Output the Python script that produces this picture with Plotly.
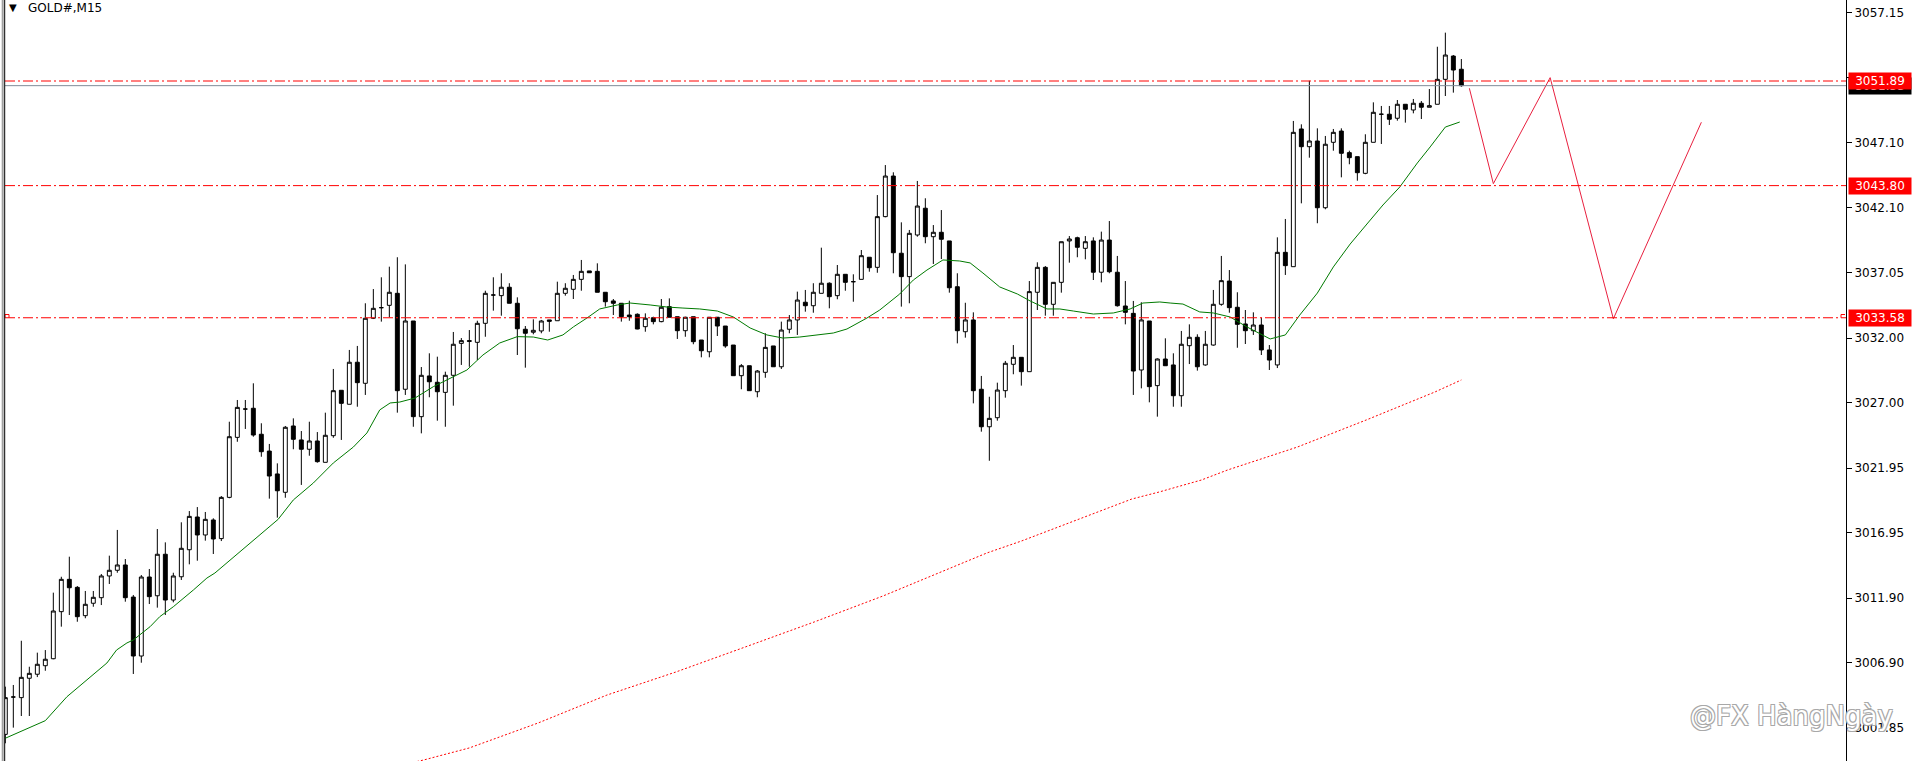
import plotly.graph_objects as go

# ---------------- data ----------------
opens = [3001.36,3004.25,3004.20,3005.70,3006.01,3006.67,3007.21,3010.85,3013.35,3012.73,
         3010.54,3011.50,3011.93,3013.61,3014.05,3014.46,3011.98,3007.42,3013.53,3012.08,
         3015.29,3011.75,3013.55,3015.64,3018.17,3016.78,3017.94,3016.50,3019.69,3024.33,
         3026.52,3026.58,3024.57,3023.27,3021.50,3020.08,3025.21,3024.13,3023.41,3024.05,
         3022.40,3024.46,3027.97,3026.89,3030.14,3028.51,3033.54,3034.36,3034.54,3035.47,
         3028.05,3033.33,3025.93,3029.08,3028.59,3027.81,3029.13,3031.60,3031.81,3031.68,
         3033.15,3035.34,3035.29,3035.94,3034.70,3032.69,3032.46,3032.56,3033.41,3033.35,
         3035.47,3035.78,3036.55,3037.20,3037.17,3035.55,3034.88,3034.70,3033.79,3033.85,
         3032.89,3033.58,3033.28,3034.44,3033.66,3032.58,3033.66,3031.86,3030.95,3033.62,
         3032.94,3031.47,3029.10,3029.87,3027.86,3029.36,3031.40,3029.79,3032.69,3033.41,
         3034.78,3034.51,3035.47,3036.25,3035.29,3036.94,3036.37,3036.55,3038.26,3037.48,
         3041.40,3044.54,3038.57,3036.76,3039.98,3042.05,3039.85,3040.19,3039.52,3035.98,
         3032.50,3033.41,3028.05,3025.15,3025.85,3027.94,3029.98,3030.52,3029.41,3035.55,
         3037.48,3034.62,3036.32,3039.52,3039.77,3038.95,3039.52,3037.10,3039.59,3037.10,
         3034.49,3033.92,3029.54,3033.33,3028.33,3030.39,3029.93,3027.55,3031.42,3032.07,
         3029.93,3031.47,3034.62,3036.42,3034.39,3033.10,3032.58,3033.02,3031.09,3029.93,
         3038.64,3037.53,3048.18,3046.81,3047.25,3042.09,3047.15,3048.02,3046.35,3046.04,
         3044.75,3047.15,3049.32,3049.32,3049.01,3050.09,3049.65,3050.17,3049.86,3050.09,
         3052.02,3053.82,3052.80]
highs = [3005.05,3005.18,3008.60,3006.59,3007.68,3007.88,3012.32,3013.55,3015.10,3012.83,
         3012.45,3012.45,3013.76,3015.18,3017.17,3014.92,3012.14,3013.68,3014.15,3017.24,
         3016.21,3013.86,3017.76,3018.63,3018.94,3018.56,3018.07,3019.79,3025.54,3027.22,
         3027.22,3028.51,3025.42,3023.82,3022.32,3025.21,3025.80,3024.82,3025.54,3024.74,
         3026.24,3029.62,3027.97,3031.09,3031.40,3034.70,3035.80,3036.71,3037.53,3038.26,
         3037.71,3033.33,3029.77,3030.83,3030.57,3029.41,3032.48,3032.01,3032.63,3033.35,
         3035.67,3036.71,3037.02,3036.25,3035.16,3032.94,3033.46,3033.41,3033.41,3036.37,
         3036.25,3036.89,3038.05,3037.20,3037.79,3035.55,3035.03,3034.70,3034.90,3033.92,
         3033.92,3033.66,3035.03,3035.08,3033.66,3033.66,3033.66,3031.86,3033.62,3033.62,
         3032.94,3031.47,3030.00,3029.87,3029.54,3032.38,3031.40,3033.28,3033.79,3035.60,
         3035.73,3036.25,3039.00,3036.32,3037.66,3036.94,3036.94,3038.82,3038.26,3043.07,
         3045.39,3044.83,3040.96,3040.37,3044.16,3042.82,3040.75,3041.91,3039.52,3037.02,
         3034.74,3034.00,3029.08,3027.47,3028.56,3030.24,3031.47,3030.52,3036.42,3037.87,
         3037.58,3036.32,3039.46,3039.90,3039.85,3039.90,3039.80,3040.24,3041.06,3038.36,
         3036.42,3034.88,3034.78,3033.33,3030.44,3031.99,3030.83,3032.56,3033.07,3032.30,
         3032.56,3035.73,3038.36,3037.27,3035.55,3034.18,3034.00,3033.58,3031.47,3039.80,
         3041.22,3048.80,3048.54,3051.91,3048.23,3047.64,3048.18,3048.23,3046.50,3046.04,
         3047.77,3050.24,3049.96,3049.96,3050.42,3050.09,3050.50,3050.34,3051.27,3054.54,
         3055.63,3053.90,3053.59]
lows = [3000.67,3001.88,3002.78,3002.78,3005.79,3006.28,3007.17,3009.69,3010.59,3010.07,
        3010.34,3011.23,3011.36,3012.99,3013.86,3011.62,3006.03,3006.90,3011.44,3011.16,
        3010.59,3011.57,3013.30,3014.51,3014.79,3016.34,3015.31,3016.31,3019.62,3023.99,
        3024.98,3024.38,3022.83,3019.59,3018.12,3019.66,3023.41,3020.65,3022.91,3022.37,
        3022.40,3024.30,3024.13,3026.89,3026.70,3027.61,3033.48,3033.28,3033.62,3026.24,
        3027.61,3025.15,3024.64,3027.43,3025.62,3025.15,3026.78,3029.93,3029.79,3030.31,
        3032.11,3034.13,3033.74,3034.70,3030.70,3029.72,3032.30,3032.38,3032.50,3033.35,
        3035.29,3035.03,3035.67,3037.06,3035.55,3034.44,3033.79,3033.28,3033.35,3032.69,
        3032.50,3033.07,3033.23,3033.62,3031.94,3032.11,3031.53,3030.52,3030.52,3032.17,
        3031.26,3029.10,3028.05,3027.94,3027.43,3028.94,3029.79,3029.62,3032.38,3032.25,
        3034.05,3033.97,3035.47,3034.31,3035.01,3035.67,3034.82,3036.55,3037.14,3037.06,
        3041.35,3037.02,3034.44,3034.70,3039.85,3039.34,3037.74,3038.12,3035.52,3031.60,
        3032.04,3026.96,3024.77,3022.52,3025.62,3027.40,3029.21,3028.33,3029.41,3034.18,
        3033.74,3033.74,3035.52,3037.84,3038.26,3038.10,3036.50,3036.32,3037.02,3034.44,
        3033.07,3027.61,3028.12,3027.04,3025.93,3029.87,3026.70,3026.70,3030.00,3029.49,
        3029.87,3031.42,3034.51,3033.97,3031.26,3031.55,3032.25,3030.70,3029.54,3029.69,
        3036.89,3037.53,3042.43,3045.96,3040.89,3041.97,3046.50,3044.44,3045.45,3044.18,
        3044.68,3047.15,3047.02,3048.49,3048.82,3048.67,3049.39,3048.95,3049.86,3050.09,
        3050.73,3050.99,3051.45]
closes = [3004.20,3004.25,3005.77,3006.08,3006.78,3007.17,3010.90,3013.35,3012.70,3010.46,
          3011.42,3011.96,3013.61,3014.05,3014.46,3011.93,3007.42,3013.53,3012.01,3015.29,
          3011.75,3013.61,3015.75,3018.22,3016.78,3017.99,3016.47,3019.69,3024.38,3026.65,
          3026.52,3024.51,3023.22,3021.34,3020.20,3025.11,3024.18,3023.41,3024.05,3022.45,
          3024.49,3027.94,3026.96,3030.14,3028.56,3033.54,3034.31,3034.36,3035.55,3027.94,
          3033.33,3025.93,3029.13,3028.63,3027.86,3029.13,3031.53,3031.81,3031.76,3033.15,
          3035.47,3035.34,3035.94,3034.70,3032.73,3032.38,3032.61,3033.33,3033.31,3035.47,
          3035.86,3036.55,3037.17,3037.06,3035.55,3034.82,3034.70,3033.66,3033.66,3032.71,
          3033.54,3033.28,3034.39,3033.62,3032.58,3033.62,3031.73,3031.03,3033.62,3032.94,
          3031.40,3029.10,3029.87,3027.94,3029.46,3031.29,3029.79,3032.63,3033.41,3034.95,
          3034.51,3035.55,3036.25,3035.21,3036.94,3036.32,3036.37,3038.38,3037.45,3041.40,
          3044.54,3038.61,3036.76,3040.11,3042.22,3039.85,3040.19,3039.65,3035.90,3032.58,
          3033.41,3027.94,3025.15,3025.80,3027.99,3030.06,3030.52,3029.41,3035.60,3037.48,
          3034.62,3036.32,3039.46,3039.67,3039.03,3039.46,3037.10,3039.59,3037.14,3034.51,
          3034.00,3029.46,3033.41,3028.25,3030.39,3029.87,3027.55,3031.53,3032.07,3029.79,
          3031.53,3034.62,3036.45,3034.36,3033.07,3032.58,3033.02,3031.09,3030.31,3038.64,
          3037.61,3047.92,3046.81,3047.25,3042.09,3047.00,3047.92,3046.30,3045.96,3044.80,
          3047.15,3049.47,3049.32,3048.93,3050.09,3049.70,3050.17,3049.86,3049.98,3052.02,
          3053.90,3052.74,3051.53]
bar_index = list(range(len(opens)))

# fast moving average (green), read at these bar positions
ma_fast_idx = [0,5.0,7.7,10.2,12.7,13.9,15.2,16.0,18.1,19.3,21.0,23.5,25.2,26.2,34.1,36.0,38.5,41.0,
               43.5,45.2,46.8,48.1,49.3,51.2,53.5,57.7,59.7,61.8,64.0,66.0,67.8,69.7,71.0,72.7,74.3,
               76.5,78.1,80.6,82.7,84.7,86.8,89.0,91.0,93.1,95.2,97.2,99.3,103.5,105.2,107.7,109.3,
               111.8,113.5,115.2,117.2,119.3,120.6,122.2,124.3,126.5,128.1,130.2,131.8,133.5,136.0,
               138.5,140.6,142.2,144.3,145.6,147.2,149.3,151.0,153.1,155.2,158.1,160.0,161.8,164.0,
               166.0,168.1,170.2,172.2,174.3,176.5,178.1,180.0,181.8]
ma_fast_val = [3001.06,3002.42,3004.27,3005.56,3006.88,3007.88,3008.43,3008.66,3009.69,3010.46,
               3011.23,3012.52,3013.45,3013.84,3017.99,3019.49,3020.80,3022.35,3023.58,3024.67,
               3026.45,3026.99,3027.06,3027.37,3028.25,3029.54,3030.70,3031.63,3032.12,3032.09,
               3031.86,3032.25,3032.87,3033.56,3034.26,3034.57,3034.72,3034.57,3034.41,3034.33,
               3034.26,3034.10,3033.64,3032.79,3032.25,3032.01,3032.09,3032.40,3032.71,3033.56,
               3034.18,3035.42,3036.50,3037.27,3038.05,3037.97,3037.82,3037.04,3035.96,3035.42,
               3034.88,3034.26,3034.26,3034.10,3033.87,3033.95,3034.26,3034.72,3034.80,3034.72,
               3034.64,3034.03,3033.95,3033.64,3032.87,3031.94,3032.25,3033.79,3035.49,3037.51,
               3039.28,3040.83,3042.30,3043.69,3045.55,3046.79,3048.33,3048.72]

# slow moving average (red dotted)
ma_slow_idx = [50.0,52.3,58.0,66.6,75.2,83.8,92.5,101.1,109.7,118.3,122.7,127.0,135.6,140.8,144.2,
               149.5,152.8,161.5,170.1,178.7,182.0]
ma_slow_val = [2999.05,2999.38,3000.31,3002.24,3004.40,3006.18,3008.12,3010.05,3012.06,3014.23,3015.39,
               3016.31,3018.33,3019.56,3020.10,3021.03,3021.81,3023.58,3025.67,3027.84,3028.77]

# projected path (drawn zig-zag)
proj_idx = [183.0, 186.0, 193.1, 201.0, 212.0]
proj_val = [3051.33, 3043.95, 3052.15, 3033.50, 3048.70]

levels = [3051.89, 3043.80, 3033.58]
bid = 3051.53
tick_vals = [3057.15, 3052.15, 3047.10, 3042.10, 3037.05, 3032.00, 3027.00,
             3021.95, 3016.95, 3011.90, 3006.90, 3001.85]
tick_text = ["3057.15", "3052.15", "3047.10", "3042.10", "3037.05", "3032.00", "3027.00",
             "3021.95", "3016.95", "3011.90", "3006.90", "3001.85"]
symbol_title = "GOLD#,M15"
watermark = "@FX HàngNgày"

FONT = "DejaVu Sans"
W, H = 1916, 761
ML, MR = 5, 70
PW = W - ML - MR


def px_x(px):
    return (px - ML) / PW


def px_y(py):
    return 1 - py / H


fig = go.Figure()

fig.add_trace(go.Candlestick(
    x=bar_index, open=opens, high=highs, low=lows, close=closes,
    increasing=dict(line=dict(color="black", width=1), fillcolor="white"),
    decreasing=dict(line=dict(color="black", width=1), fillcolor="black"),
    whiskerwidth=0, hoverinfo="skip", showlegend=False))

fig.add_trace(go.Scatter(x=ma_fast_idx, y=ma_fast_val, mode="lines",
                         line=dict(color="#007a00", width=1), hoverinfo="skip"))
fig.add_trace(go.Scatter(x=ma_slow_idx, y=ma_slow_val, mode="lines",
                         line=dict(color="#ff0000", width=1, dash="2px,2px"), hoverinfo="skip"))
fig.add_trace(go.Scatter(x=proj_idx, y=proj_val, mode="lines",
                         line=dict(color="#e8203f", width=1), hoverinfo="skip"))
# object marker at top of the chart
fig.add_trace(go.Scatter(x=[183.9], y=[3058.23], mode="markers",
                         marker=dict(symbol="diamond", size=11, color="#7d8a99"),
                         cliponaxis=False, hoverinfo="skip"))

shapes = []
for lv in levels:
    shapes.append(dict(type="line", xref="paper", x0=0, x1=1, yref="y", y0=lv, y1=lv,
                       line=dict(color="#ff0000", width=1, dash="10px,3px,2px,3px"), layer="above"))
shapes.append(dict(type="line", xref="paper", x0=0, x1=1, yref="y", y0=bid, y1=bid,
                   line=dict(color="#7f8b98", width=1), layer="above"))
# small end brackets of the lowest level line
lv = levels[2]
shapes.append(dict(type="path", xref="paper", yref="y",
                   path=f"M {px_x(5)},{lv} L {px_x(5)},{lv + 0.25} L {px_x(9)},{lv + 0.25} L {px_x(9)},{lv}",
                   line=dict(color="#ff0000", width=1)))
shapes.append(dict(type="path", xref="paper", yref="y",
                   path=f"M {px_x(1841)},{lv} L {px_x(1841)},{lv + 0.25} L {px_x(1845)},{lv + 0.25}",
                   line=dict(color="#ff0000", width=1)))
# left window border
shapes.append(dict(type="line", xref="paper", x0=px_x(2.7), x1=px_x(2.7), yref="paper", y0=0, y1=1,
                   line=dict(color="#a0a0a0", width=2)))
shapes.append(dict(type="line", xref="paper", x0=px_x(4.7), x1=px_x(4.7), yref="paper", y0=0, y1=1,
                   line=dict(color="black", width=1)))

annotations = []
# bid label (mostly hidden under the level label)
annotations.append(dict(xref="paper", x=1, xanchor="left", xshift=2, yref="y", y=bid,
                        text=f"{bid:.2f}", showarrow=False, bgcolor="black",
                        font=dict(family=FONT, size=12, color="white"),
                        width=60, height=14, borderpad=1))
for lv in levels:
    annotations.append(dict(xref="paper", x=1, xanchor="left", xshift=2, yref="y", y=lv,
                            text=f"{lv:.2f}", showarrow=False, bgcolor="#ff0000",
                            font=dict(family=FONT, size=12, color="white"),
                            width=60, height=14, borderpad=1))
annotations.append(dict(xref="paper", x=px_x(12.5), xanchor="center", yref="paper",
                        y=px_y(7), yanchor="middle", text="▼", showarrow=False,
                        font=dict(family=FONT, size=10, color="black")))
annotations.append(dict(xref="paper", x=px_x(26), xanchor="left", yref="paper",
                        y=px_y(8), yanchor="middle", text=symbol_title, showarrow=False,
                        font=dict(family=FONT, size=12, color="black")))
annotations.append(dict(xref="paper", x=px_x(1895), xanchor="right", yref="paper",
                        y=px_y(716), yanchor="middle", text=watermark, showarrow=False,
                        font=dict(family=FONT, size=26, color="white",
                                  shadow="1px 1px 0 #a8a8a8, -1px -1px 0 #a8a8a8, 1px -1px 0 #a8a8a8, -1px 1px 0 #a8a8a8")))

fig.update_layout(
    width=W, height=H,
    margin=dict(l=ML, r=MR, t=0, b=0),
    paper_bgcolor="white", plot_bgcolor="white",
    showlegend=False,
    xaxis=dict(range=[-0.04, 230.08], visible=False, rangeslider=dict(visible=False)),
    yaxis=dict(side="right", range=[2999.30, 3058.155], showline=True, linecolor="black",
               linewidth=1, ticks="outside", ticklen=5, tickcolor="black",
               tickvals=tick_vals, ticktext=tick_text, showgrid=False, zeroline=False,
               tickfont=dict(family=FONT, size=12, color="black")),
    shapes=shapes, annotations=annotations,
)

fig.write_html("out.html", config={"displayModeBar": False},
               post_script="document.body.style.margin='0px';document.body.style.overflow='hidden';")
